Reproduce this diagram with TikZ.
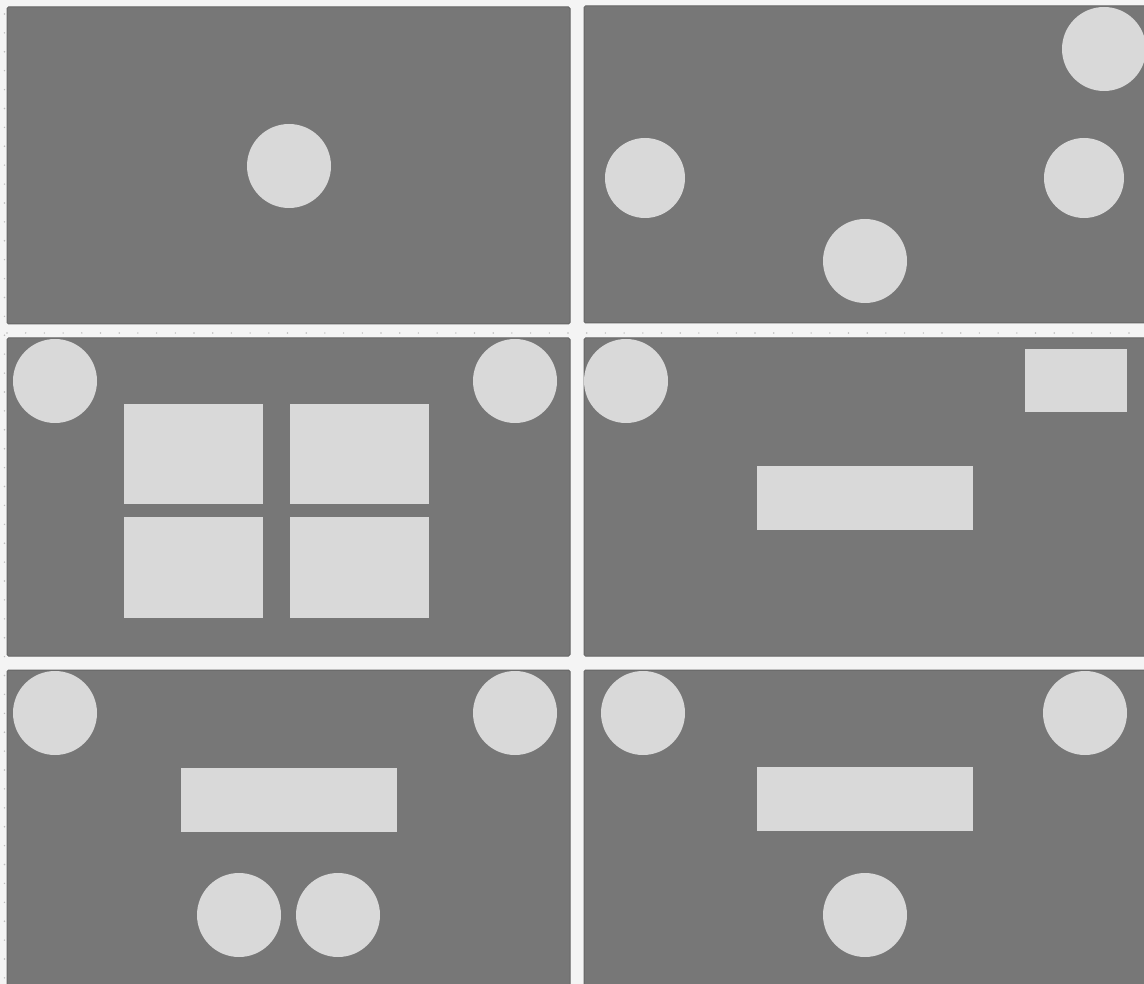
\documentclass[tikz,border=0pt]{standalone}
\definecolor{bgc}{HTML}{F4F4F4}
\definecolor{panelc}{HTML}{777777}
\definecolor{paneledge}{HTML}{666666}
\definecolor{shapec}{HTML}{D9D9D9}
\definecolor{dotc}{HTML}{BDBDBD}
\begin{document}
\begin{tikzpicture}[x=1pt,y=-1pt,
  panel/.style={fill=panelc,draw=paneledge,line width=1pt,rounded corners=1.5pt},
  blob/.style={fill=shapec},
  gdot/.style={fill=dotc}]
\fill[bgc] (0,0) rectangle (1144,984);
\useasboundingbox (0,0) rectangle (1144,984);
% grid dots
\foreach \i in {0,...,61} {\fill[gdot] (7+18.7*\i,333) circle (0.8);}
\foreach \i in {0,...,51} {\fill[gdot] (4.5,14+18.9*\i) circle (0.8);}
% panels
\draw[panel] (7,7) rectangle (570,324);
\draw[panel] (584,6) rectangle (1150,323);
\draw[panel] (7,338) rectangle (570,656);
\draw[panel] (584,338) rectangle (1150,656);
\draw[panel] (7,670) rectangle (570,990);
\draw[panel] (584,670) rectangle (1150,990);
% panel 1
\begin{scope}
\clip (7,7) rectangle (570,324);
\fill[blob] (289,166) circle (42);
\end{scope}
% panel 2
\begin{scope}
\clip (584,6) rectangle (1150,323);
\fill[blob] (1104,49) circle (42);
\fill[blob] (645,178) circle (40);
\fill[blob] (1084,178) circle (40);
\fill[blob] (865,261) circle (42);
\end{scope}
% panel 3
\begin{scope}
\clip (7,338) rectangle (570,656);
\fill[blob] (55,381) circle (42);
\fill[blob] (515,381) circle (42);
\fill[blob] (124,404) rectangle (263,504);
\fill[blob] (290,404) rectangle (429,504);
\fill[blob] (124,517) rectangle (263,618);
\fill[blob] (290,517) rectangle (429,618);
\end{scope}
% panel 4
\begin{scope}
\clip (584,338) rectangle (1150,656);
\fill[blob] (626,381) circle (42);
\fill[blob] (1025,349) rectangle (1127,412);
\fill[blob] (757,466) rectangle (973,530);
\end{scope}
% panel 5
\begin{scope}
\clip (7,670) rectangle (570,990);
\fill[blob] (55,713) circle (42);
\fill[blob] (515,713) circle (42);
\fill[blob] (181,768) rectangle (397,832);
\fill[blob] (239,915) circle (42);
\fill[blob] (338,915) circle (42);
\end{scope}
% panel 6
\begin{scope}
\clip (584,670) rectangle (1150,990);
\fill[blob] (643,713) circle (42);
\fill[blob] (1085,713) circle (42);
\fill[blob] (757,767) rectangle (973,831);
\fill[blob] (865,915) circle (42);
\end{scope}
\end{tikzpicture}
\end{document}
